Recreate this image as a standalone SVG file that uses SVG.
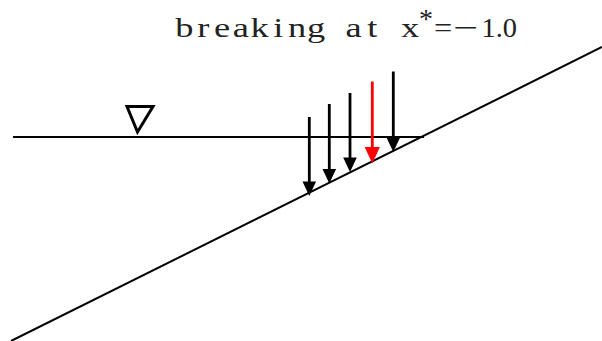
<svg xmlns="http://www.w3.org/2000/svg" width="602" height="341" viewBox="0 0 602 341">
<style>
.ln{stroke:#000;stroke-width:2;fill:none}
.sh{stroke-width:2.8;fill:none}
.t{font-family:"Liberation Serif","DejaVu Serif",serif;font-size:28px;fill:#222;text-anchor:middle}
</style>
<defs>
<path id="hd" d="M-6.8,-14.5 L6.8,-14.5 L0,0 Z"/>
<path id="hdr" d="M-7.6,-16.5 L7.6,-16.5 L0,0 Z"/>
</defs>
<g id="title">
<text class="t" transform="scale(1.3,1)" x="141.85 156.31 170.77 185.23 199.69 214.15 228.62 243.08 257.54 272 286.46 300.92 315.38" y="37">breaking at x</text>
<text class="t" x="426" y="27.5" font-size="20">*</text>
<text class="t" x="443" y="37" transform="translate(443,0) scale(1.15,1) translate(-443,0)">=</text>
<text class="t" x="453.5" y="37" textLength="25" lengthAdjust="spacingAndGlyphs" style="text-anchor:start">−</text>
<text class="t" x="481.5" y="37" font-size="24" textLength="35.5" lengthAdjust="spacingAndGlyphs" style="text-anchor:start">1.0</text>
</g>
<g id="water">
<line class="ln" x1="13" y1="137" x2="424" y2="137"/>
<path d="M127,106.5 L153,106.5 L137.5,132 Z" fill="none" stroke="#000" stroke-width="3" stroke-linejoin="miter"/>
</g>
<g id="slope">
<line class="ln" x1="11" y1="341" x2="602" y2="47"/>
</g>
<g id="connectors">
<line class="sh" stroke="#000" x1="309.3" y1="117" x2="309.3" y2="183"/>
<use href="#hd" transform="translate(309.3,196)"/>
<line class="sh" stroke="#000" x1="329.3" y1="104" x2="329.3" y2="170"/>
<use href="#hd" transform="translate(329.3,183.5)"/>
<line class="sh" stroke="#000" x1="350" y1="93" x2="350" y2="159"/>
<use href="#hd" transform="translate(350,172)"/>
<line class="sh" stroke="#f00" x1="372.3" y1="81.5" x2="372.3" y2="148"/>
<use href="#hdr" fill="#f00" transform="translate(372.3,163.5)"/>
<line class="sh" stroke="#000" x1="393.3" y1="71.5" x2="393.3" y2="138"/>
<use href="#hd" transform="translate(393.3,152)"/>
</g>
</svg>
